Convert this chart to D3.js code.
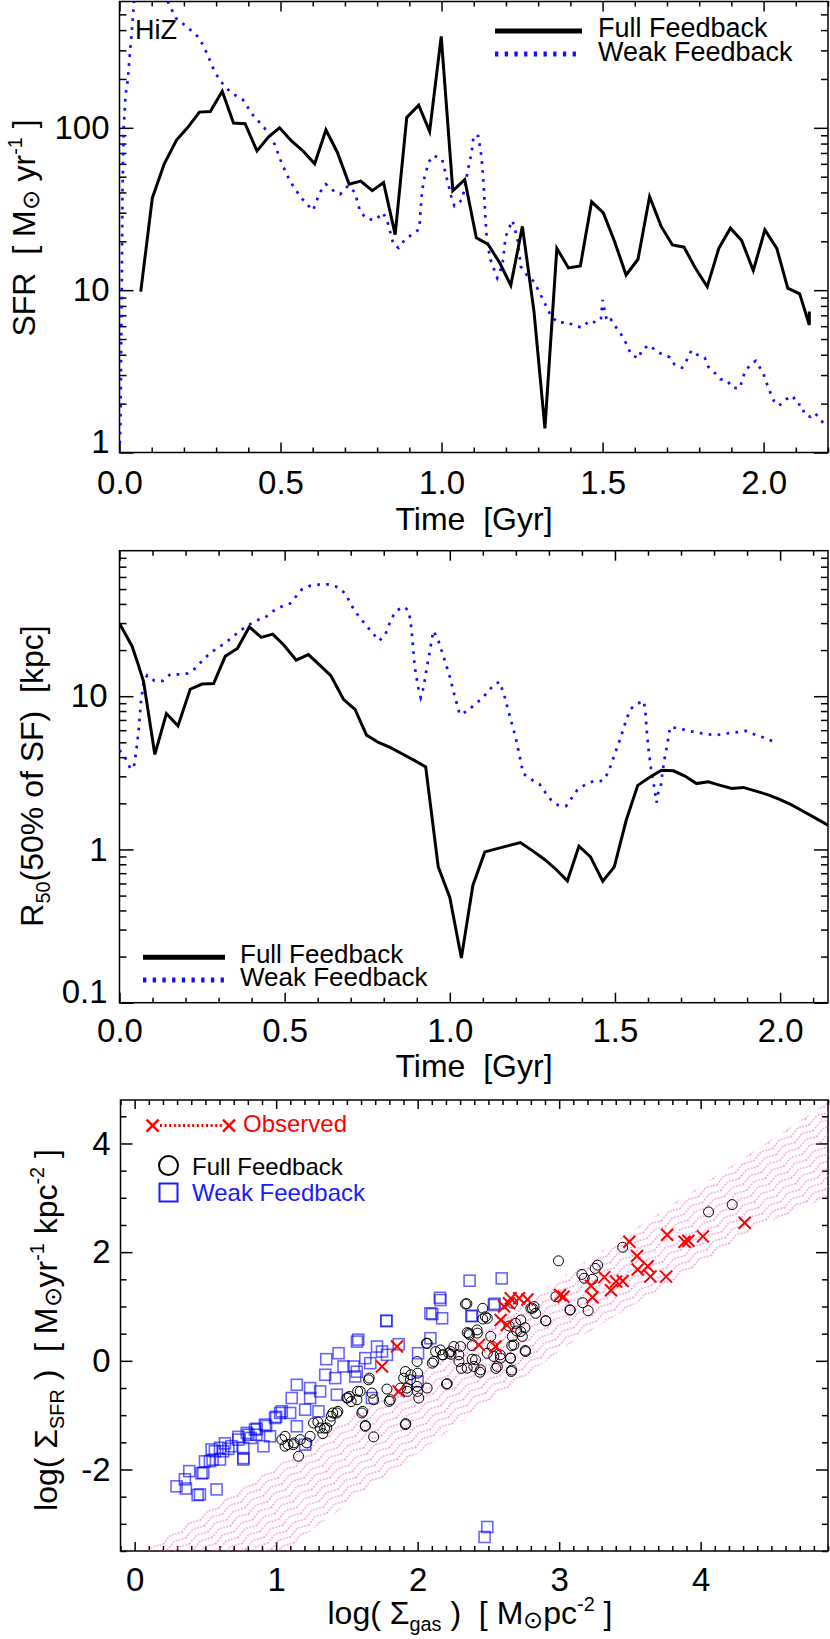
<!DOCTYPE html>
<html>
<head>
<meta charset="utf-8">
<script src="https://cdn.jsdelivr.net/npm/d3@7"></script>
<style>
  body { margin: 0; background: #fff; }
  svg { display: block; font-family: "Liberation Sans", Arial, Helvetica, sans-serif; }
  .tick line { stroke: #000; stroke-width: 1.5; }
  .tick text { fill: #000; font-size: 33px; }
</style>
</head>
<body>
<script>
// ---- top panel: SFR vs time ----
var sfrFull = [[0.066,9.8],[0.102,37],[0.139,60],[0.177,84],[0.211,100],[0.248,125],[0.282,126],[0.319,168],
  [0.354,107],[0.39,106],[0.427,72],[0.463,88],[0.497,100],[0.534,83],[0.57,72],[0.606,60],[0.641,97],[0.676,71],
  [0.713,45],[0.749,47],[0.785,41],[0.82,46],[0.856,22],[0.892,116],[0.929,138],[0.963,95],[0.999,366],[1.035,41],
  [1.072,48],[1.108,21],[1.144,19.2],[1.181,14.7],[1.215,10.7],[1.251,24.7],[1.287,7.4],[1.321,1.41],[1.358,18.1],
  [1.394,13.7],[1.431,14.1],[1.466,35],[1.502,30],[1.537,20],[1.573,12.4],[1.61,15.5],[1.646,37.7],[1.682,24.7],
  [1.717,19],[1.753,18.4],[1.788,13.7],[1.825,10.5],[1.861,18.1],[1.897,24.1],[1.932,20.2],[1.968,13.2],[2.004,23.5],
  [2.041,18.1],[2.075,10.3],[2.112,9.5],[2.142,6.1],[2.142,7.4]];

var sfrWeak = [[0,1.0],[0.003,1.5],[0.005,4],[0.007,9.8],[0.009,38],[0.013,100],[0.019,160],[0.026,200],[0.033,300],
  [0.038,390],[0.042,500],[0.045,600],[0.07,800],[0.1,850],[0.148,610],[0.175,474],[0.208,421],[0.248,357],[0.271,289],
  [0.295,222],[0.315,193],[0.331,176],[0.352,162],[0.383,149],[0.414,120],[0.45,100],[0.482,79],[0.503,61],[0.529,47],
  [0.56,38],[0.581,34],[0.601,31],[0.622,40],[0.641,45],[0.664,41],[0.685,39],[0.71,44],[0.731,40],[0.747,30.5],
  [0.768,27.5],[0.794,27],[0.818,30],[0.832,26.5],[0.851,19],[0.867,18.2],[0.887,20.6],[0.908,22],[0.931,23.8],
  [0.937,36],[0.944,47],[0.96,61.5],[0.975,67.5],[1.002,64],[1.015,50],[1.03,38],[1.04,33],[1.064,36],[1.08,52.5],
  [1.093,70],[1.1,90],[1.114,89],[1.124,66.5],[1.131,43.5],[1.137,26.5],[1.141,20],[1.152,15.4],[1.173,11.9],
  [1.189,14.3],[1.199,21.4],[1.22,26.9],[1.236,20.6],[1.246,14],[1.267,12.2],[1.287,11.3],[1.313,8.9],[1.339,7.0],
  [1.36,6.3],[1.391,6.35],[1.414,6.0],[1.438,5.9],[1.459,6.5],[1.48,6.3],[1.495,6.7],[1.5,8.7],[1.507,7.4],[1.514,6.4],
  [1.526,6.6],[1.547,5.7],[1.566,5.06],[1.589,4.0],[1.612,3.8],[1.622,4.3],[1.646,4.6],[1.667,4.2],[1.688,4.0],
  [1.709,3.86],[1.724,3.47],[1.747,3.33],[1.763,3.76],[1.776,4.25],[1.794,4.0],[1.817,3.85],[1.828,3.38],[1.848,3.1],
  [1.866,2.83],[1.887,2.77],[1.904,2.5],[1.926,2.49],[1.942,3.15],[1.963,3.55],[1.976,3.67],[1.999,3.08],[2.015,2.49],
  [2.032,2.08],[2.048,1.94],[2.07,2.13],[2.091,2.23],[2.103,1.99],[2.119,1.96],[2.127,1.72],[2.145,1.66],[2.16,1.75],
  [2.178,1.57],[2.202,1.44]];

// ---- middle panel: R50 vs time ----
var r50Full = [[0,29.8],[0.038,21.2],[0.055,16.5],[0.073,12.4],[0.107,4.17],[0.142,7.7],[0.177,6.4],[0.214,11.1],
  [0.25,12.0],[0.285,12.1],[0.32,18.2],[0.357,20.5],[0.393,28.3],[0.429,24.2],[0.464,25.4],[0.498,21.5],[0.535,17.2],
  [0.572,18.7],[0.607,15.9],[0.64,13.6],[0.678,9.55],[0.713,8.2],[0.748,5.57],[0.784,4.99],[0.819,4.63],[0.854,4.23],
  [0.891,3.83],[0.927,3.46],[0.965,0.77],[1.0,0.486],[1.035,0.196],[1.07,0.585],[1.106,0.964],[1.214,1.11],
  [1.252,0.975],[1.287,0.86],[1.322,0.74],[1.356,0.624],[1.391,1.05],[1.426,0.895],[1.463,0.621],[1.498,0.77],
  [1.534,1.55],[1.569,2.62],[1.604,2.95],[1.641,3.29],[1.677,3.26],[1.712,3.01],[1.747,2.69],[1.782,2.76],[1.819,2.62],
  [1.854,2.5],[1.889,2.54],[1.924,2.41],[1.962,2.28],[1.997,2.13],[2.032,1.97],[2.067,1.79],[2.103,1.62],[2.145,1.44]];

var r50Weak = [[0,4.45],[0.018,3.93],[0.033,3.38],[0.043,3.38],[0.051,4.45],[0.058,6.0],[0.065,9.2],[0.073,12.4],
  [0.084,13.7],[0.106,12.6],[0.131,12.6],[0.154,13.9],[0.181,13.9],[0.207,14.1],[0.233,15.4],[0.25,17],[0.273,19],
  [0.295,20.5],[0.32,22.3],[0.343,24.4],[0.366,26.9],[0.389,29],[0.416,31.3],[0.441,32.6],[0.464,35.8],[0.489,38.3],
  [0.517,40.3],[0.535,44.9],[0.552,49.7],[0.577,52.5],[0.607,53.6],[0.637,53.6],[0.663,51.2],[0.686,46.2],[0.698,40.6],
  [0.713,35.8],[0.73,32.1],[0.748,28.8],[0.768,25.6],[0.786,23],[0.804,25],[0.822,31.6],[0.837,36],[0.861,38.3],
  [0.874,36.4],[0.881,31.3],[0.887,23.2],[0.894,15.5],[0.904,11.5],[0.912,9.8],[0.921,11.5],[0.93,15.2],[0.94,19.9],
  [0.95,26.7],[0.965,23.2],[0.983,17.6],[1.0,13.4],[1.015,10],[1.03,7.6],[1.055,8.0],[1.076,8.9],[1.099,9.67],
  [1.116,10.8],[1.136,12],[1.151,12.4],[1.169,9.5],[1.176,8.2],[1.191,6.25],[1.199,5.43],[1.211,4.12],[1.222,3.13],
  [1.247,2.86],[1.272,2.66],[1.29,2.34],[1.307,2.1],[1.327,1.95],[1.352,1.92],[1.368,2.15],[1.386,2.44],[1.411,2.66],
  [1.436,2.79],[1.463,2.8],[1.478,3.13],[1.489,3.6],[1.498,4.12],[1.508,4.72],[1.518,5.43],[1.526,6.15],[1.535,7.08],
  [1.546,8.2],[1.566,8.9],[1.587,9.3],[1.592,8.1],[1.596,6.0],[1.602,4.45],[1.609,3.38],[1.614,2.95],[1.619,2.54],
  [1.626,2.02],[1.631,2.34],[1.64,2.67],[1.643,3.1],[1.652,4.12],[1.658,4.78],[1.663,5.57],[1.667,6.3],[1.695,6.15],
  [1.723,5.94],[1.752,5.77],[1.78,5.65],[1.807,5.57],[1.838,5.71],[1.866,5.8],[1.896,5.94],[1.921,5.65],[1.95,5.38],
  [1.977,5.09]];

// ---- bottom panel: log Sigma_gas vs log Sigma_SFR ----
var ksFull = [[2.338,1.046],[2.492,0.783],[2.811,0.966],[2.834,0.874],[2.905,0.74],[3.077,0.936],[3.205,0.923],
  [2.692,0.69],[2.728,0.538],[2.669,0.446],[2.362,0.507],[2.303,0.263],[2.291,0.11],[2.385,0.03],[2.397,-0.104],
  [2.445,-0.165],[2.35,-0.135],[2.22,0.14],[2.161,0.2],[2.114,-0.012],[2.062,0.324],[2.492,0.14],[2.563,-0.104],
  [2.586,0.049],[2.657,0.049],[2.662,-0.196],[2.763,0.171],[2.68,0.293],[1.996,-0.012],[2.0,-0.227],[1.913,-0.196],
  [1.901,-0.318],[1.949,-0.349],[1.925,-0.502],[1.996,-0.471],[2.008,-0.685],[2.067,-0.502],[2.204,-0.428],
  [1.878,-0.502],[1.783,-0.52],[1.807,-0.716],[1.653,-0.349],[1.677,-0.594],[1.689,-0.716],[1.594,-0.563],
  [1.571,-0.716],[1.5,-0.685],[1.606,-0.96],[1.63,-1.205],[1.689,-1.4],[1.913,-1.174],[1.429,-0.96],[1.382,-1.113],
  [1.358,-1.236],[1.311,-1.236],[1.264,-1.144],[1.24,-1.389],[1.17,-1.45],[1.217,-1.511],[1.063,-1.389],[1.04,-1.45],
  [1.063,-1.572],[1.122,-1.542],[1.158,-1.756],[2.527,0.263],[2.256,0.263],
  [4.056,2.74],[4.223,2.875],[2.995,1.84],[3.449,2.09],[3.161,1.59],[3.272,1.76],[3.236,1.5],[2.977,1.18],
  [3.078,0.936],[3.166,1.07],[2.8,0.966],[2.906,0.734],[2.67,1.06],[2.729,0.752],[3.255,1.70],[3.177,1.52],[2.823,0.997],
  [2.46,0.966],[2.479,0.81],[2.42,0.569],[2.35,0.52],[2.233,0.17],[2.409,0.018],[2.538,0.08],[2.584,0.11],[2.655,0.05],
  [2.76,0.19],[2.127,0.17],[2.174,0.11],[2.104,-0.043],[2.209,-0.42],[1.952,-0.257],[1.928,-0.563],[1.999,-0.563],
  [1.799,-0.746],[1.658,-0.318],[1.518,-0.655],[1.612,-0.93],[1.436,-0.93],[1.295,-1.126],[1.916,-1.156],[1.63,-1.19],
  [1.389,-1.02],[1.4,-0.96],[1.506,-0.68],[1.53,-0.75],[1.576,-0.56],[1.342,-1.24],[1.33,-1.34],[1.084,-1.54],
  [1.126,-1.51],[2.74,0.45],[2.7,0.55],[2.646,0.64],[2.758,0.61],[2.348,1.05],[2.46,0.77],[2.422,0.51],[2.366,0.48],
  [2.385,0.28],[2.516,0.45],[2.44,-0.21],[2.31,-0.14],[2.553,-0.14],[2.665,-0.17],[2.665,0.28],[2.236,0.12],
  [2.292,-0.01],[2.068,0.32],[2.18,0.11]];

var ksWeak = [[2.161,1.119],[2.09,0.874],[2.173,0.783],[2.385,0.825],[2.539,1.027],[1.779,0.74],[1.571,0.354],
  [1.58,0.39],[1.354,0.03],[1.441,0.14],[1.713,0.263],[1.748,0.171],[1.866,0.306],[1.783,0.11],[1.63,0.049],
  [1.665,-0.043],[1.476,-0.104],[1.547,-0.104],[2.09,0.416],[2.003,0.14],[2.0,-0.38],[1.347,-0.257],[1.417,-0.318],
  [1.559,-0.288],[1.57,-0.2],[1.146,-0.441],[1.24,-0.502],[1.311,-0.563],[1.24,-0.685],[1.429,-0.624],[1.677,-0.685],
  [1.11,-0.685],[1.205,-0.899],[1.299,-0.93],[1.04,-0.93],[1.099,-0.96],[0.992,-1.052],[1.146,-1.205],[0.921,-1.174],
  [0.85,-1.266],[0.792,-1.327],[0.86,-1.36],[0.733,-1.45],[0.82,-1.42],[0.957,-1.389],[0.91,-1.572],[0.768,-1.603],
  [0.685,-1.572],[0.626,-1.664],[0.567,-1.664],[0.532,-1.847],[0.603,-1.817],[0.485,-2.061],[0.768,-1.817],
  [0.579,-2.367],[0.461,-2.459],[2.492,-3.058],[2.473,-3.242],[1.205,-1.542],
  [0.296,-2.31],[0.355,-2.18],[0.362,-2.35],[0.386,-2.03],[0.445,-2.47],[0.473,-2.07],[0.497,-1.85],[0.544,-1.63],
  [0.551,-1.82],[0.603,-1.6],[0.638,-1.52],[0.662,-1.62],[0.733,-1.4],[0.768,-1.79],[0.804,-1.36],[0.863,-1.25],
  [0.929,-1.2],[1.0,-1.03],[1.028,-0.96],
  [2.367,1.474],[2.594,1.517],[2.157,1.16],[2.103,0.86],[2.379,0.826],[2.544,1.05],[1.779,0.73]];

var ksObserved = [[1.748,-0.104],[1.854,0.263],[1.866,-0.563],[2.433,0.293],[2.551,0.263],[2.586,0.752],[2.63,0.66],
  [2.611,1.0],[2.645,1.058],[2.658,1.15],[2.717,1.15],[2.776,1.13],[3.007,1.21],[3.031,1.18],[3.225,1.38],[3.236,1.17],
  [3.319,1.54],[3.366,1.30],[3.402,1.46],[3.449,1.47],[3.496,2.19],[3.55,1.93],[3.555,1.68],[3.626,1.74],[3.645,1.55],
  [3.756,1.55],[3.763,2.32],[3.886,2.19],[3.914,2.21],[4.016,2.29],[4.311,2.54]];

// edges of the observed relation band
var bandUpper = [[0.07,-3.5],[4.9,4.76]];
var bandLower = [[1.1,-3.5],[1.18,-3.25],[2.49,-0.78],[3.12,0.39],[3.9,1.61],[4.41,2.47],[4.9,3.0]];

// tick values
var timeMajor = [0, 0.5, 1.0, 1.5, 2.0];
var sfrMajor = [1, 10, 100];
var r50Major = [0.1, 1, 10];
var gasMajor = [0, 1, 2, 3, 4];
var ksYMajor = [-2, 0, 2, 4];

const w = 830;
const h = 1639;
const fontFamily = '"Liberation Sans", Arial, Helvetica, sans-serif';

var svg = d3.select('body').append('svg')
  .attr('width', w)
  .attr('height', h);

var defs = svg.append('defs');

function range(a, b, step) {
  var out = [];
  for (var i = 0; a + i * step <= b + 1e-9; i++) out.push(+(a + i * step).toFixed(4));
  return out;
}

function logMinor(lo, hi) {
  var out = [];
  for (var dec = Math.floor(Math.log10(lo)); dec <= Math.ceil(Math.log10(hi)); dec++) {
    for (var m = 2; m <= 9; m++) {
      var v = m * Math.pow(10, dec);
      if (v > lo && v < hi) out.push(v);
    }
  }
  return out;
}

// text with sub/superscripts
function richText(t, parts, fs) {
  var cur = 0;
  parts.forEach(function(p) {
    var shift = (p.shift || 0) * fs;
    t.append('tspan')
      .attr('font-size', (p.size || 1) * fs)
      .attr('dy', shift - cur)
      .text(p.t);
    cur = shift;
  });
}

function drawFrame(name, x, y, o) {
  var g = svg.append('g').attr('class', name);
  var box = { l: x.range()[0], r: x.range()[1], t: y.range()[1], b: y.range()[0] };

  defs.append('clipPath').attr('id', 'clip-' + name)
    .append('rect')
    .attr('x', box.l).attr('y', box.t)
    .attr('width', box.r - box.l).attr('height', box.b - box.t);

  function axis(gen, tr, vals, size, fmt, pad) {
    var a = g.append('g').attr('transform', tr)
      .call(gen.tickValues(vals).tickSize(-size).tickSizeOuter(0).tickPadding(pad || 0).tickFormat(fmt || ''));
    a.select('.domain').remove();
    a.selectAll('text').attr('font-family', fontFamily);
    return a;
  }

  axis(d3.axisBottom(x), 'translate(0,' + box.b + ')', o.xMajor, o.xMajLen, o.xFmt, o.xPad);
  axis(d3.axisBottom(x), 'translate(0,' + box.b + ')', o.xMinor, o.xMinLen);
  axis(d3.axisTop(x), 'translate(0,' + box.t + ')', o.xMajor, o.xMajLen);
  axis(d3.axisTop(x), 'translate(0,' + box.t + ')', o.xMinor, o.xMinLen);

  var ya = axis(d3.axisLeft(y), 'translate(' + box.l + ',0)', o.yMajor, o.yMajLen, o.yFmt, o.yPad);
  if (o.liftFirst) {
    ya.selectAll('text').filter(function(d) { return d === o.yMajor[0]; }).attr('dy', '0em');
  }
  axis(d3.axisLeft(y), 'translate(' + box.l + ',0)', o.yMinor, o.yMinLen);
  axis(d3.axisRight(y), 'translate(' + box.r + ',0)', o.yMajor, o.yMajLen);
  axis(d3.axisRight(y), 'translate(' + box.r + ',0)', o.yMinor, o.yMinLen);

  g.append('rect')
    .attr('x', box.l).attr('y', box.t)
    .attr('width', box.r - box.l).attr('height', box.b - box.t)
    .attr('fill', 'none').attr('stroke', '#000').attr('stroke-width', 1.5);

  return { g: g, box: box, clip: 'url(#clip-' + name + ')' };
}

function axisTitle(x, y, rot, parts, fs) {
  var t = svg.append('text')
    .attr('transform', 'translate(' + x + ',' + y + ')' + (rot ? 'rotate(-90)' : ''))
    .attr('text-anchor', 'middle')
    .attr('font-family', fontFamily)
    .attr('fill', '#000')
    .style('white-space', 'pre');
  richText(t, parts, fs);
  return t;
}

var fmt1 = d3.format('.1f');
var sub = function(s) { return { t: s, size: 0.62, shift: 0.22 }; };
var sup = function(s) { return { t: s, size: 0.62, shift: -0.42 }; };
var sun = { t: '\u2299', size: 0.75, shift: 0.12 };

var weakDash = '2.7,6.3';

// ======================= panel 1 =======================
var x1 = d3.scaleLinear().domain([0, 2.2]).range([119.5, 828]);
var y1 = d3.scaleLog().domain([1, 600]).range([452.5, 1.5]);

var p1 = drawFrame('sfr', x1, y1, {
  xMajor: timeMajor, xMinor: range(0, 2.2, 0.1).filter(function(v) { return timeMajor.indexOf(v) < 0; }),
  xMajLen: 10, xMinLen: 5, xFmt: fmt1, xPad: 18,
  yMajor: sfrMajor, yMinor: logMinor(1, 600), yMajLen: 14, yMinLen: 7,
  yFmt: function(d) { return d; }, yPad: 10, liftFirst: true
});

var line1 = d3.line().x(function(d) { return x1(d[0]); }).y(function(d) { return y1(d[1]); });

svg.append('path').datum(sfrWeak)
  .attr('clip-path', p1.clip)
  .attr('d', line1)
  .attr('fill', 'none').attr('stroke', '#1010ff').attr('stroke-width', 2.7)
  .attr('stroke-dasharray', weakDash);

svg.append('path').datum(sfrFull)
  .attr('clip-path', p1.clip)
  .attr('d', line1)
  .attr('fill', 'none').attr('stroke', '#000').attr('stroke-width', 3)
  .attr('stroke-linejoin', 'miter');

svg.append('text').attr('x', 135).attr('y', 39)
  .attr('font-family', fontFamily).attr('font-size', 27).text('HiZ');

svg.append('line').attr('x1', 495).attr('x2', 582).attr('y1', 31).attr('y2', 31)
  .attr('stroke', '#000').attr('stroke-width', 5);
svg.append('line').attr('x1', 495).attr('x2', 582).attr('y1', 54).attr('y2', 54)
  .attr('stroke', '#1010ff').attr('stroke-width', 5).attr('stroke-dasharray', '3.3,6.4');
svg.append('text').attr('x', 598).attr('y', 37.3)
  .attr('font-family', fontFamily).attr('font-size', 27).text('Full Feedback');
svg.append('text').attr('x', 598).attr('y', 60.7)
  .attr('font-family', fontFamily).attr('font-size', 27).text('Weak Feedback');

axisTitle(474, 530, false, [{ t: 'Time  [Gyr]' }], 32);
axisTitle(35, 228, true, [{ t: 'SFR  [ M' }, sun, { t: ' yr' }, sup('-1'), { t: ' ]' }], 32);

// ======================= panel 2 =======================
var x2 = d3.scaleLinear().domain([0, 2.145]).range([119.5, 828]);
var y2 = d3.scaleLog().domain([0.1, 89]).range([1002.7, 550.7]);

var p2 = drawFrame('r50', x2, y2, {
  xMajor: timeMajor, xMinor: range(0, 2.1, 0.1).filter(function(v) { return timeMajor.indexOf(v) < 0; }),
  xMajLen: 10, xMinLen: 5, xFmt: fmt1, xPad: 16,
  yMajor: r50Major, yMinor: logMinor(0.1, 89), yMajLen: 14, yMinLen: 7,
  yFmt: function(d) { return d; }, yPad: 12, liftFirst: true
});

var line2 = d3.line().x(function(d) { return x2(d[0]); }).y(function(d) { return y2(d[1]); });

svg.append('path').datum(r50Weak)
  .attr('clip-path', p2.clip)
  .attr('d', line2)
  .attr('fill', 'none').attr('stroke', '#1010ff').attr('stroke-width', 2.7)
  .attr('stroke-dasharray', weakDash);

svg.append('path').datum(r50Full)
  .attr('clip-path', p2.clip)
  .attr('d', line2)
  .attr('fill', 'none').attr('stroke', '#000').attr('stroke-width', 3);

svg.append('line').attr('x1', 143).attr('x2', 225).attr('y1', 957.3).attr('y2', 957.3)
  .attr('stroke', '#000').attr('stroke-width', 5);
svg.append('line').attr('x1', 143).attr('x2', 225).attr('y1', 980).attr('y2', 980)
  .attr('stroke', '#1010ff').attr('stroke-width', 5).attr('stroke-dasharray', '3.3,6.4');
svg.append('text').attr('x', 240).attr('y', 963.3)
  .attr('font-family', fontFamily).attr('font-size', 26).text('Full Feedback');
svg.append('text').attr('x', 240).attr('y', 985.5)
  .attr('font-family', fontFamily).attr('font-size', 26).text('Weak Feedback');

axisTitle(474, 1077, false, [{ t: 'Time  [Gyr]' }], 32);
axisTitle(43, 776, true, [{ t: 'R' }, sub('50'), { t: '(50% of SF)  [kpc]' }], 32);

// ======================= panel 3 =======================
var x3 = d3.scaleLinear().domain([-0.1, 4.9]).range([120.5, 828]);
var y3 = d3.scaleLinear().domain([-3.5, 4.8]).range([1551, 1100]);

var p3 = drawFrame('ks', x3, y3, {
  xMajor: gasMajor, xMinor: range(-0.1, 4.9, 0.1).filter(function(v) { return gasMajor.indexOf(v) < 0; }),
  xMajLen: 9, xMinLen: 5, xFmt: d3.format('d'), xPad: 17,
  yMajor: ksYMajor, yMinor: range(-3.5, 4.5, 0.5).filter(function(v) { return ksYMajor.indexOf(v) < 0; }),
  yMajLen: 12, yMinLen: 6, yFmt: function(d) { return String(d).replace('\u2212', '-'); }, yPad: 10
});

// dotted pink band of the observed relation
var hatch = defs.append('pattern')
  .attr('id', 'ksHatch')
  .attr('patternUnits', 'userSpaceOnUse')
  .attr('width', 22).attr('height', 7)
  .attr('patternTransform', 'rotate(-33)');
hatch.append('path')
  .attr('d', 'M0,5 L11,1.5 L22,5')
  .attr('fill', 'none').attr('stroke', '#ff70d0').attr('stroke-width', 1.4)
  .attr('stroke-dasharray', '1.5,1.7');

var bandPoly = bandUpper.concat(bandLower.slice().reverse());
svg.append('path').datum(bandPoly)
  .attr('clip-path', p3.clip)
  .attr('d', d3.line().x(function(d) { return x3(d[0]); }).y(function(d) { return y3(d[1]); }).curve(d3.curveLinearClosed))
  .attr('fill', 'url(#ksHatch)')
  .attr('stroke', 'none');

var marks = svg.append('g').attr('clip-path', p3.clip);

marks.selectAll('rect.weak').data(ksWeak).enter().append('rect')
  .attr('class', 'weak')
  .attr('x', function(d) { return x3(d[0]) - 5.5; })
  .attr('y', function(d) { return y3(d[1]) - 5.5; })
  .attr('width', 11).attr('height', 11)
  .attr('fill', 'none').attr('stroke', '#0000ff').attr('stroke-opacity', 0.6).attr('stroke-width', 1.6);

marks.selectAll('circle.full').data(ksFull).enter().append('circle')
  .attr('class', 'full')
  .attr('cx', function(d) { return x3(d[0]); })
  .attr('cy', function(d) { return y3(d[1]); })
  .attr('r', 5)
  .attr('fill', 'none').attr('stroke', '#000').attr('stroke-width', 1);

var crossPath = 'M-6,-6L6,6M-6,6L6,-6';
marks.selectAll('path.obs').data(ksObserved).enter().append('path')
  .attr('class', 'obs')
  .attr('transform', function(d) { return 'translate(' + x3(d[0]) + ',' + y3(d[1]) + ')'; })
  .attr('d', crossPath)
  .attr('fill', 'none').attr('stroke', '#ff0000').attr('stroke-width', 2);

// legend
svg.append('line').attr('x1', 160).attr('x2', 222).attr('y1', 1125.6).attr('y2', 1125.6)
  .attr('stroke', '#ff0000').attr('stroke-width', 3).attr('stroke-dasharray', '2,2.6');
[152.6, 229].forEach(function(cx) {
  svg.append('path').attr('transform', 'translate(' + cx + ',1125.6)')
    .attr('d', crossPath).attr('fill', 'none').attr('stroke', '#ff0000').attr('stroke-width', 2.5);
});
svg.append('text').attr('x', 243).attr('y', 1132)
  .attr('font-family', fontFamily).attr('font-size', 24).attr('fill', '#ff0000').text('Observed');

svg.append('circle').attr('cx', 168.5).attr('cy', 1165.6).attr('r', 9.5)
  .attr('fill', 'none').attr('stroke', '#000').attr('stroke-width', 2);
svg.append('text').attr('x', 192).attr('y', 1174.5)
  .attr('font-family', fontFamily).attr('font-size', 24).text('Full Feedback');

svg.append('rect').attr('x', 159.5).attr('y', 1183.5).attr('width', 18).attr('height', 18)
  .attr('fill', 'none').attr('stroke', '#1a1aff').attr('stroke-width', 2);
svg.append('text').attr('x', 192).attr('y', 1201)
  .attr('font-family', fontFamily).attr('font-size', 24).attr('fill', '#1a1aff').text('Weak Feedback');

axisTitle(470, 1624, false, [{ t: 'log( \u03A3' }, sub('gas'), { t: ' )  [ M' }, sun, { t: 'pc' }, sup('-2'), { t: ' ]' }], 32);
axisTitle(57, 1330, true, [{ t: 'log( \u03A3' }, sub('SFR'), { t: ' )  [ M' }, sun, { t: 'yr' }, sup('-1'),
  { t: ' kpc' }, sup('-2'), { t: ' ]' }], 32);
</script>
</body>
</html>
